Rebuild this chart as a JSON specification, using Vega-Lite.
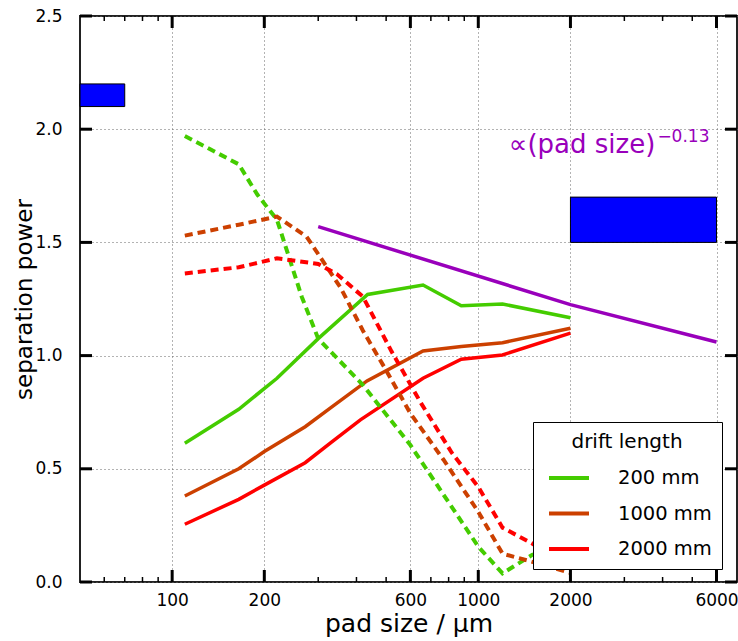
{
  "$schema": "https://vega.github.io/schema/vega-lite/v6.json",
  "width": 657,
  "height": 566,
  "autosize": {"type": "none"},
  "padding": {"left": 80, "top": 16, "right": 1, "bottom": 59},
  "config": {
    "view": {"stroke": "#222", "strokeWidth": 2},
    "font": "DejaVu Sans",
    "axis": {"domain": false, "ticks": false, "labelColor": "#000", "titleColor": "#000", "titleFontWeight": "normal"}
  },
  "datasets": {
    "boxes": [
      {"x0": 50, "x1": 70, "y0": 2.1, "y1": 2.2},
      {"x0": 2000, "x1": 6000, "y0": 1.5, "y1": 1.7}
    ],
    "trend": [
      {"x": 300, "y": 1.57},
      {"x": 2000, "y": 1.225},
      {"x": 6000, "y": 1.06}
    ],
    "xticks": [
      {"level": "major", "x": 100, "y": 0}, {"level": "major", "x": 200, "y": 0}, {"level": "major", "x": 600, "y": 0},
      {"level": "major", "x": 1000, "y": 0}, {"level": "major", "x": 2000, "y": 0}, {"level": "major", "x": 6000, "y": 0},
      {"level": "major", "x": 100, "y": 2.5}, {"level": "major", "x": 200, "y": 2.5}, {"level": "major", "x": 600, "y": 2.5},
      {"level": "major", "x": 1000, "y": 2.5}, {"level": "major", "x": 2000, "y": 2.5}, {"level": "major", "x": 6000, "y": 2.5},
      {"level": "minor", "x": 60, "y": 0}, {"level": "minor", "x": 70, "y": 0}, {"level": "minor", "x": 80, "y": 0}, {"level": "minor", "x": 90, "y": 0},
      {"level": "minor", "x": 300, "y": 0}, {"level": "minor", "x": 400, "y": 0}, {"level": "minor", "x": 500, "y": 0},
      {"level": "minor", "x": 700, "y": 0}, {"level": "minor", "x": 800, "y": 0}, {"level": "minor", "x": 900, "y": 0},
      {"level": "minor", "x": 3000, "y": 0}, {"level": "minor", "x": 4000, "y": 0}, {"level": "minor", "x": 5000, "y": 0},
      {"level": "minor", "x": 60, "y": 2.5}, {"level": "minor", "x": 70, "y": 2.5}, {"level": "minor", "x": 80, "y": 2.5}, {"level": "minor", "x": 90, "y": 2.5},
      {"level": "minor", "x": 300, "y": 2.5}, {"level": "minor", "x": 400, "y": 2.5}, {"level": "minor", "x": 500, "y": 2.5},
      {"level": "minor", "x": 700, "y": 2.5}, {"level": "minor", "x": 800, "y": 2.5}, {"level": "minor", "x": 900, "y": 2.5},
      {"level": "minor", "x": 3000, "y": 2.5}, {"level": "minor", "x": 4000, "y": 2.5}, {"level": "minor", "x": 5000, "y": 2.5}
    ],
    "yticks": [
      {"x": 50, "y": 0}, {"x": 50, "y": 0.5}, {"x": 50, "y": 1}, {"x": 50, "y": 1.5}, {"x": 50, "y": 2}, {"x": 50, "y": 2.5},
      {"x": 7000, "y": 0}, {"x": 7000, "y": 0.5}, {"x": 7000, "y": 1}, {"x": 7000, "y": 1.5}, {"x": 7000, "y": 2}, {"x": 7000, "y": 2.5}
    ],
    "curves": [
      {"kind": "solid", "drift": "200 mm", "x": 110, "y": 0.613},
      {"kind": "solid", "drift": "200 mm", "x": 165, "y": 0.763},
      {"kind": "solid", "drift": "200 mm", "x": 220, "y": 0.90},
      {"kind": "solid", "drift": "200 mm", "x": 300, "y": 1.075},
      {"kind": "solid", "drift": "200 mm", "x": 435, "y": 1.27},
      {"kind": "solid", "drift": "200 mm", "x": 660, "y": 1.312},
      {"kind": "solid", "drift": "200 mm", "x": 880, "y": 1.22},
      {"kind": "solid", "drift": "200 mm", "x": 1200, "y": 1.228},
      {"kind": "solid", "drift": "200 mm", "x": 2000, "y": 1.167},
      {"kind": "solid", "drift": "1000 mm", "x": 110, "y": 0.38},
      {"kind": "solid", "drift": "1000 mm", "x": 165, "y": 0.50},
      {"kind": "solid", "drift": "1000 mm", "x": 200, "y": 0.576},
      {"kind": "solid", "drift": "1000 mm", "x": 272, "y": 0.686},
      {"kind": "solid", "drift": "1000 mm", "x": 330, "y": 0.77},
      {"kind": "solid", "drift": "1000 mm", "x": 433, "y": 0.888},
      {"kind": "solid", "drift": "1000 mm", "x": 660, "y": 1.02},
      {"kind": "solid", "drift": "1000 mm", "x": 880, "y": 1.04},
      {"kind": "solid", "drift": "1000 mm", "x": 1200, "y": 1.057},
      {"kind": "solid", "drift": "1000 mm", "x": 2000, "y": 1.121},
      {"kind": "solid", "drift": "2000 mm", "x": 110, "y": 0.255},
      {"kind": "solid", "drift": "2000 mm", "x": 165, "y": 0.365},
      {"kind": "solid", "drift": "2000 mm", "x": 200, "y": 0.428},
      {"kind": "solid", "drift": "2000 mm", "x": 272, "y": 0.527},
      {"kind": "solid", "drift": "2000 mm", "x": 330, "y": 0.616},
      {"kind": "solid", "drift": "2000 mm", "x": 412, "y": 0.716},
      {"kind": "solid", "drift": "2000 mm", "x": 660, "y": 0.90},
      {"kind": "solid", "drift": "2000 mm", "x": 880, "y": 0.984},
      {"kind": "solid", "drift": "2000 mm", "x": 1200, "y": 1.003},
      {"kind": "solid", "drift": "2000 mm", "x": 2000, "y": 1.099},
      {"kind": "dashed", "drift": "200 mm", "x": 110, "y": 1.97},
      {"kind": "dashed", "drift": "200 mm", "x": 165, "y": 1.845},
      {"kind": "dashed", "drift": "200 mm", "x": 190, "y": 1.71},
      {"kind": "dashed", "drift": "200 mm", "x": 220, "y": 1.60},
      {"kind": "dashed", "drift": "200 mm", "x": 265, "y": 1.26},
      {"kind": "dashed", "drift": "200 mm", "x": 300, "y": 1.075},
      {"kind": "dashed", "drift": "200 mm", "x": 420, "y": 0.87},
      {"kind": "dashed", "drift": "200 mm", "x": 600, "y": 0.605},
      {"kind": "dashed", "drift": "200 mm", "x": 1000, "y": 0.156},
      {"kind": "dashed", "drift": "200 mm", "x": 1200, "y": 0.038},
      {"kind": "dashed", "drift": "200 mm", "x": 1500, "y": 0.12},
      {"kind": "dashed", "drift": "200 mm", "x": 2000, "y": 0.16},
      {"kind": "dashed", "drift": "1000 mm", "x": 110, "y": 1.53},
      {"kind": "dashed", "drift": "1000 mm", "x": 165, "y": 1.578},
      {"kind": "dashed", "drift": "1000 mm", "x": 220, "y": 1.614},
      {"kind": "dashed", "drift": "1000 mm", "x": 275, "y": 1.525},
      {"kind": "dashed", "drift": "1000 mm", "x": 355, "y": 1.30},
      {"kind": "dashed", "drift": "1000 mm", "x": 420, "y": 1.11},
      {"kind": "dashed", "drift": "1000 mm", "x": 500, "y": 0.935},
      {"kind": "dashed", "drift": "1000 mm", "x": 600, "y": 0.745},
      {"kind": "dashed", "drift": "1000 mm", "x": 770, "y": 0.54},
      {"kind": "dashed", "drift": "1000 mm", "x": 1000, "y": 0.31},
      {"kind": "dashed", "drift": "1000 mm", "x": 1200, "y": 0.125},
      {"kind": "dashed", "drift": "1000 mm", "x": 1450, "y": 0.095},
      {"kind": "dashed", "drift": "1000 mm", "x": 2000, "y": 0.04},
      {"kind": "dashed", "drift": "2000 mm", "x": 110, "y": 1.363},
      {"kind": "dashed", "drift": "2000 mm", "x": 165, "y": 1.39},
      {"kind": "dashed", "drift": "2000 mm", "x": 220, "y": 1.43},
      {"kind": "dashed", "drift": "2000 mm", "x": 300, "y": 1.405},
      {"kind": "dashed", "drift": "2000 mm", "x": 345, "y": 1.36},
      {"kind": "dashed", "drift": "2000 mm", "x": 420, "y": 1.26},
      {"kind": "dashed", "drift": "2000 mm", "x": 520, "y": 1.02},
      {"kind": "dashed", "drift": "2000 mm", "x": 650, "y": 0.79},
      {"kind": "dashed", "drift": "2000 mm", "x": 820, "y": 0.57},
      {"kind": "dashed", "drift": "2000 mm", "x": 1000, "y": 0.42},
      {"kind": "dashed", "drift": "2000 mm", "x": 1200, "y": 0.24},
      {"kind": "dashed", "drift": "2000 mm", "x": 1500, "y": 0.17},
      {"kind": "dashed", "drift": "2000 mm", "x": 2000, "y": 0.06}
    ],
    "labels": [
      {"part": "main", "x": 3786, "y": 1.895, "text": "∝(pad size)"},
      {"part": "sup", "x": 3846, "y": 1.943, "text": "−0.13"}
    ]
  },
  "layer": [
    {
      "data": {"name": "boxes"},
      "mark": {"type": "rect", "fill": "#0000ff", "stroke": "#000", "strokeWidth": 1},
      "encoding": {
        "x": {
          "field": "x0", "type": "quantitative",
          "scale": {"type": "log", "domain": [50, 7000], "nice": false},
          "axis": {
            "orient": "bottom", "values": [100, 200, 600, 1000, 2000, 6000], "format": "d",
            "title": "pad size / μm", "titleFontSize": 25, "titlePadding": 3,
            "grid": true, "gridDash": [1, 3], "gridColor": "#666", "gridWidth": 1,
            "labelFontSize": 17, "labelPadding": 10, "labelFlush": false
          }
        },
        "x2": {"field": "x1"},
        "y": {
          "field": "y0", "type": "quantitative",
          "scale": {"domain": [0, 2.5], "nice": false, "zero": false},
          "axis": {
            "orient": "left", "values": [0, 0.5, 1, 1.5, 2, 2.5], "format": ".1f",
            "title": "separation power", "titleFontSize": 23, "titleX": -56, "titleY": 283, "titleBaseline": "middle", "titleAngle": -90,
            "grid": true, "gridDash": [1, 3], "gridColor": "#666", "gridWidth": 1,
            "labelFontSize": 17, "labelPadding": 18, "labelFlush": false
          }
        },
        "y2": {"field": "y1"}
      }
    },
    {
      "data": {"name": "curves"},
      "transform": [{"filter": "datum.kind === 'solid'"}],
      "mark": {"type": "line", "strokeWidth": 3.5},
      "encoding": {
        "x": {"field": "x", "type": "quantitative"},
        "y": {"field": "y", "type": "quantitative"},
        "color": {"field": "drift", "type": "nominal",
          "scale": {"domain": ["200 mm", "1000 mm", "2000 mm"], "range": ["#44cc00", "#cc4000", "#ff0000"]},
          "legend": {
            "orient": "none", "legendX": 453, "legendY": 406,
            "title": "drift length", "titleFontSize": 20, "titleFontWeight": "normal", "titleAnchor": "middle", "titleColor": "#000", "titlePadding": 4,
            "labelFontSize": 19.5, "labelColor": "#000", "symbolType": "stroke", "symbolSize": 1600, "symbolStrokeWidth": 4,
            "symbolOffset": 4, "labelOffset": 27, "padding": 10, "rowPadding": 3.5, "fillColor": "#fff", "strokeColor": "#000", "cornerRadius": 0,
            "labelExpr": "datum.label + '   '"
          }
        },
        "order": {"field": "x", "type": "quantitative"}
      }
    },
    {
      "data": {"name": "curves"},
      "transform": [{"filter": "datum.kind === 'dashed'"}],
      "mark": {"type": "line", "strokeWidth": 4, "strokeDash": [8, 5]},
      "encoding": {
        "x": {"field": "x", "type": "quantitative"},
        "y": {"field": "y", "type": "quantitative"},
        "color": {"field": "drift", "type": "nominal", "legend": null},
        "order": {"field": "x", "type": "quantitative"}
      }
    },
    {
      "data": {"name": "trend"},
      "mark": {"type": "line", "strokeWidth": 3.5, "color": "#9900bb"},
      "encoding": {
        "x": {"field": "x", "type": "quantitative"},
        "y": {"field": "y", "type": "quantitative"}
      }
    },
    {
      "data": {"name": "labels"},
      "transform": [{"filter": "datum.part === 'main'"}],
      "mark": {"type": "text", "align": "right", "baseline": "alphabetic", "fontSize": 26, "color": "#9900bb"},
      "encoding": {
        "x": {"field": "x", "type": "quantitative"},
        "y": {"field": "y", "type": "quantitative"},
        "text": {"field": "text"}
      }
    },
    {
      "data": {"name": "labels"},
      "transform": [{"filter": "datum.part === 'sup'"}],
      "mark": {"type": "text", "align": "left", "baseline": "alphabetic", "fontSize": 17, "color": "#9900bb"},
      "encoding": {
        "x": {"field": "x", "type": "quantitative"},
        "y": {"field": "y", "type": "quantitative"},
        "text": {"field": "text"}
      }
    },
    {
      "data": {"name": "xticks"},
      "transform": [{"filter": "datum.level === 'major' && datum.y === 0"}],
      "mark": {"type": "tick", "orient": "vertical", "size": 12, "thickness": 3, "yOffset": -6, "color": "#000", "opacity": 1},
      "encoding": {
        "x": {"field": "x", "type": "quantitative"},
        "y": {"field": "y", "type": "quantitative"}
      }
    },
    {
      "data": {"name": "xticks"},
      "transform": [{"filter": "datum.level === 'major' && datum.y === 2.5"}],
      "mark": {"type": "tick", "orient": "vertical", "size": 12, "thickness": 3, "yOffset": 6, "color": "#000", "opacity": 1},
      "encoding": {
        "x": {"field": "x", "type": "quantitative"},
        "y": {"field": "y", "type": "quantitative"}
      }
    },
    {
      "data": {"name": "xticks"},
      "transform": [{"filter": "datum.level === 'minor' && datum.y === 0"}],
      "mark": {"type": "tick", "orient": "vertical", "size": 5, "thickness": 1.5, "yOffset": -2.5, "color": "#000", "opacity": 1},
      "encoding": {
        "x": {"field": "x", "type": "quantitative"},
        "y": {"field": "y", "type": "quantitative"}
      }
    },
    {
      "data": {"name": "xticks"},
      "transform": [{"filter": "datum.level === 'minor' && datum.y === 2.5"}],
      "mark": {"type": "tick", "orient": "vertical", "size": 5, "thickness": 1.5, "yOffset": 2.5, "color": "#000", "opacity": 1},
      "encoding": {
        "x": {"field": "x", "type": "quantitative"},
        "y": {"field": "y", "type": "quantitative"}
      }
    },
    {
      "data": {"name": "yticks"},
      "transform": [{"filter": "datum.x === 50"}],
      "mark": {"type": "tick", "orient": "horizontal", "size": 12, "thickness": 3, "xOffset": 6, "color": "#000", "opacity": 1},
      "encoding": {
        "x": {"field": "x", "type": "quantitative"},
        "y": {"field": "y", "type": "quantitative"}
      }
    },
    {
      "data": {"name": "yticks"},
      "transform": [{"filter": "datum.x === 7000"}],
      "mark": {"type": "tick", "orient": "horizontal", "size": 12, "thickness": 3, "xOffset": -6, "color": "#000", "opacity": 1},
      "encoding": {
        "x": {"field": "x", "type": "quantitative"},
        "y": {"field": "y", "type": "quantitative"}
      }
    }
  ]
}
